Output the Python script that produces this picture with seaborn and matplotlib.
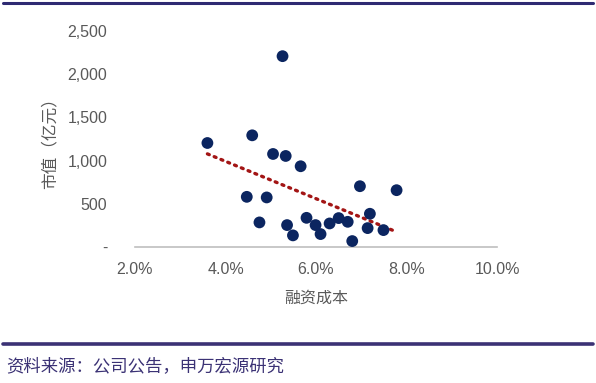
import numpy as np
import pandas as pd
import matplotlib
matplotlib.use("Agg")
import matplotlib.pyplot as plt
import seaborn as sns
from matplotlib.ticker import FuncFormatter

# financing cost (%) and market value (100m yuan)
cost = [5.26, 3.60, 4.59, 5.05, 5.33, 5.66, 6.97, 7.78, 4.47, 4.91, 4.75, 5.36,
        5.49, 5.79, 5.99, 6.10, 6.30, 6.50, 6.70, 6.80, 7.19, 7.14, 7.49]
value = [2209, 1204, 1293, 1077, 1054, 935, 704, 658, 581, 574, 285, 254,
         135, 338, 254, 150, 273, 335, 292, 69, 385, 219, 196]

x_ticks = [2, 4, 6, 8, 10]
y_ticks = [0, 500, 1000, 1500, 2000, 2500]

df = pd.DataFrame({"cost": cost, "value": value})

sns.set_style("white")
plt.rcParams["font.family"] = ["Noto Sans CJK SC", "DejaVu Sans"]

fig = plt.figure(figsize=(5.96, 3.83), dpi=100)
ax = fig.add_axes([0.2265, 0.355, 0.6075, 0.564])

sns.scatterplot(data=df, x="cost", y="value", ax=ax, s=72,
                color="#0B2560", edgecolor="none", zorder=3)

# linear trend line
k, b = np.polyfit(df["cost"], df["value"], 1)
xs = np.array([df["cost"].min(), df["cost"].max()])
ax.plot(xs, k * xs + b, color="#A31515", lw=2.4, linestyle=(0, (0.6, 1.6)),
        dash_capstyle="round", zorder=2)

ax.set_xlim(2, 10)
ax.set_ylim(0, 2500)
ax.set_xticks(x_ticks)
ax.set_yticks(y_ticks)
ax.xaxis.set_major_formatter(FuncFormatter(lambda v, p: f"{v:.1f}%"))
ax.yaxis.set_major_formatter(FuncFormatter(lambda v, p: "-" if v == 0 else f"{v:,.0f}"))
ax.tick_params(axis="both", length=0, labelsize=11.5, colors="#595959")
ax.tick_params(axis="x", pad=11)
ax.tick_params(axis="y", pad=20)
for lab in ax.get_xticklabels() + ax.get_yticklabels():
    lab.set_family("Liberation Sans")

for s in ["top", "right", "left"]:
    ax.spines[s].set_visible(False)
ax.spines["bottom"].set_color("#BFBFBF")
ax.spines["bottom"].set_linewidth(1.2)

ax.set_xlabel("融资成本", fontsize=11.5, color="#595959", labelpad=9)
ax.set_ylabel("市值（亿元）", fontsize=12, color="#595959", labelpad=6)

# frame lines and source note
fig.add_artist(plt.Line2D([0.005, 0.995], [0.992, 0.992], color="#2E2A72", lw=2.2))
fig.add_artist(plt.Line2D([0.005, 0.995], [0.101, 0.101], color="#3B3275", lw=2.6))
fig.text(0.01, 0.045, "资料来源：公司公告，申万宏源研究", fontsize=12.5,
         color="#3B3275", va="center", ha="left")

fig.savefig("out.png", dpi=100)
plt.close(fig)
